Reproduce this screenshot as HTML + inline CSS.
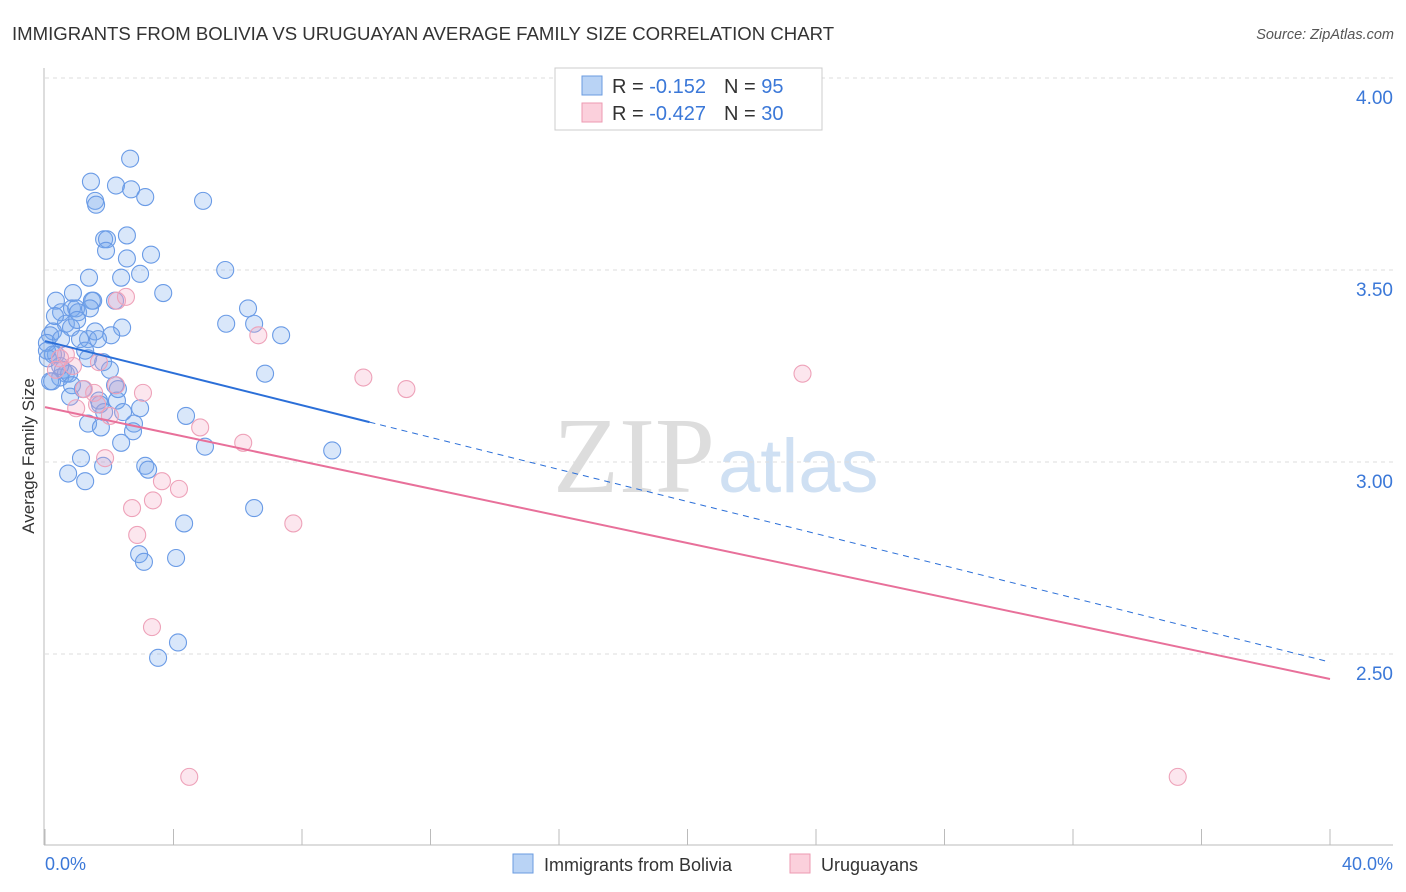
<!DOCTYPE html>
<html><head><meta charset="utf-8"><style>
body{margin:0;background:#fff;font-family:"Liberation Sans",sans-serif;}
svg{display:block}
</style></head><body>
<svg id="chart" width="1406" height="892">
<text x="12" y="40" font-size="18.6" fill="#333">IMMIGRANTS FROM BOLIVIA VS URUGUAYAN AVERAGE FAMILY SIZE CORRELATION CHART</text>
<text x="1394" y="39" font-size="14.5" fill="#555" font-style="italic" text-anchor="end">Source: ZipAtlas.com</text>
<text x="553" y="492" font-size="108" fill="#ddd" font-family="Liberation Serif,serif">ZIP</text>
<text x="718" y="492" font-size="76" fill="#cfe0f3">atlas</text>
<g id="grid"></g><g id="axes"></g><g id="marks"></g>
<text x="34" y="456" font-size="17" fill="#333" text-anchor="middle" transform="rotate(-90 34 456)">Average Family Size</text>
<g>
<rect x="555" y="68" width="267" height="62" fill="#fff" stroke="#ccc"/>
<rect x="582" y="76" width="20" height="19" fill="#b9d3f5" stroke="#6a9be0"/>
<rect x="582" y="103" width="20" height="19" fill="#fbd0dc" stroke="#ec9ab2"/>
<text x="612" y="93" font-size="20" fill="#333">R = <tspan fill="#3b78d8">-0.152</tspan><tspan dx="18">N = </tspan><tspan fill="#3b78d8">95</tspan></text>
<text x="612" y="120" font-size="20" fill="#333">R = <tspan fill="#3b78d8">-0.427</tspan><tspan dx="18">N = </tspan><tspan fill="#3b78d8">30</tspan></text>
</g>
<g>
<rect x="513" y="854" width="20" height="19" fill="#b9d3f5" stroke="#6a9be0"/>
<text x="544" y="871" font-size="18" fill="#333">Immigrants from Bolivia</text>
<rect x="790" y="854" width="20" height="19" fill="#fbd0dc" stroke="#ec9ab2"/>
<text x="821" y="871" font-size="18" fill="#333">Uruguayans</text>
</g>
</svg>
<script>
const yTicks=[4.0,3.5,3.0,2.5];
const yTickLabels=["4.00","3.50","3.00","2.50"];
const xTickLabels=["0.0%","40.0%"];
const boliviaX=[2.65,1.43,2.21,2.68,3.12,1.56,1.59,4.92,2.55,1.84,1.93,1.90,2.55,3.30,2.96,5.61,1.37,2.37,3.68,0.87,0.34,1.50,1.46,2.18,6.32,0.50,0.84,0.97,1.03,5.64,6.51,7.35,2.40,0.65,0.81,0.25,0.16,1.56,2.06,1.34,1.09,0.06,1.25,0.34,1.34,1.81,0.09,0.25,0.56,0.65,0.47,0.75,6.85,0.16,2.18,1.18,0.84,1.68,1.71,2.24,2.96,1.84,2.43,4.39,1.34,1.74,2.77,2.74,4.98,2.37,8.94,1.12,0.72,1.25,1.81,3.12,3.21,6.51,4.33,2.93,3.08,4.08,4.14,3.52,0.31,0.06,0.47,0.22,0.78,0.50,1.00,1.40,1.65,2.02,2.27];
const boliviaY=[3.79,3.73,3.72,3.71,3.69,3.68,3.67,3.68,3.59,3.58,3.58,3.55,3.53,3.54,3.49,3.50,3.48,3.48,3.44,3.44,3.42,3.42,3.42,3.42,3.40,3.39,3.40,3.40,3.39,3.36,3.36,3.33,3.35,3.36,3.35,3.34,3.33,3.34,3.33,3.32,3.32,3.31,3.29,3.28,3.27,3.26,3.27,3.28,3.24,3.23,3.22,3.23,3.23,3.21,3.20,3.19,3.20,3.16,3.15,3.16,3.14,3.13,3.13,3.12,3.10,3.09,3.10,3.08,3.04,3.05,3.03,3.01,2.97,2.95,2.99,2.99,2.98,2.88,2.84,2.76,2.74,2.75,2.53,2.49,3.38,3.29,3.25,3.21,3.17,3.32,3.37,3.40,3.32,3.24,3.19];
const uruX=[2.24,2.52,6.64,9.91,11.25,23.58,0.47,0.87,1.68,1.21,1.53,3.05,2.21,1.62,0.97,4.83,6.17,1.87,3.64,3.36,4.17,2.71,2.87,7.73,3.33,4.49,35.26,0.34,0.65,2.02];
const uruY=[3.42,3.43,3.33,3.22,3.19,3.23,3.27,3.25,3.26,3.19,3.18,3.18,3.20,3.15,3.14,3.09,3.05,3.01,2.95,2.90,2.93,2.88,2.81,2.84,2.57,2.18,2.18,3.24,3.28,3.12];
const boliviaTrend=[3.315,2.479];
const uruTrend=[3.143,2.435];
const NS="http://www.w3.org/2000/svg";
const xS=v=>45+v*(1285/40);
const yS=v=>78+(4-v)*384;
function mk(tag,attrs,parent){const e=document.createElementNS(NS,tag);for(const k in attrs)e.setAttribute(k,attrs[k]);parent.appendChild(e);return e;}
const grid=document.getElementById('grid'),axes=document.getElementById('axes'),marks=document.getElementById('marks');
yTicks.forEach((t,i)=>{
 const l=mk('line',{x1:45,x2:1393,y1:yS(t),y2:yS(t),stroke:'#ddd','stroke-dasharray':'4,4'},grid);
 
 
 const tx=mk('text',{x:1393,y:yS(t)+26,'font-size':19,fill:'#3b78d8','text-anchor':'end'},axes);
 tx.textContent=yTickLabels[i];
 
 
});
const ya=mk('line',{x1:44,x2:44,y1:68,y2:845,stroke:'#bbb'},axes);


const xa=mk('line',{x1:44,x2:1393,y1:845,y2:845,stroke:'#bbb'},axes);


for(let i=0;i<=10;i++){const t=mk('line',{x1:xS(i*4),x2:xS(i*4),y1:829,y2:845,stroke:'#bbb'},axes);
 
 }
[[0,'start',45],[40,'end',1393]].forEach((d,i)=>{const t=mk('text',{x:d[2],y:870,'font-size':18,fill:'#3b78d8','text-anchor':d[1]},axes);t.textContent=xTickLabels[i];
 
 });
boliviaX.forEach((x,i)=>{const c=mk('circle',{cx:xS(x),cy:yS(boliviaY[i]),r:8.5,fill:'rgba(120,168,238,0.28)',stroke:'#6a9be6','stroke-width':1.1},marks);
 
 });
uruX.forEach((x,i)=>{const c=mk('circle',{cx:xS(x),cy:yS(uruY[i]),r:8.5,fill:'rgba(245,165,195,0.28)',stroke:'#eea2b9','stroke-width':1.1},marks);
 
 });
const bAt=x=>boliviaTrend[0]+(boliviaTrend[1]-boliviaTrend[0])*x/40;
const t1=mk('line',{x1:xS(0),y1:yS(bAt(0)),x2:xS(10.1),y2:yS(bAt(10.1)),stroke:'#2b6fd8','stroke-width':2},marks);


const t2=mk('line',{x1:xS(10.1),y1:yS(bAt(10.1)),x2:xS(40),y2:yS(bAt(40)),stroke:'#2b6fd8','stroke-width':1,'stroke-dasharray':'6,5'},marks);


const t3=mk('line',{x1:xS(0),y1:yS(uruTrend[0]),x2:xS(40),y2:yS(uruTrend[1]),stroke:'#e8709a','stroke-width':2},marks);


</script>
</body></html>
